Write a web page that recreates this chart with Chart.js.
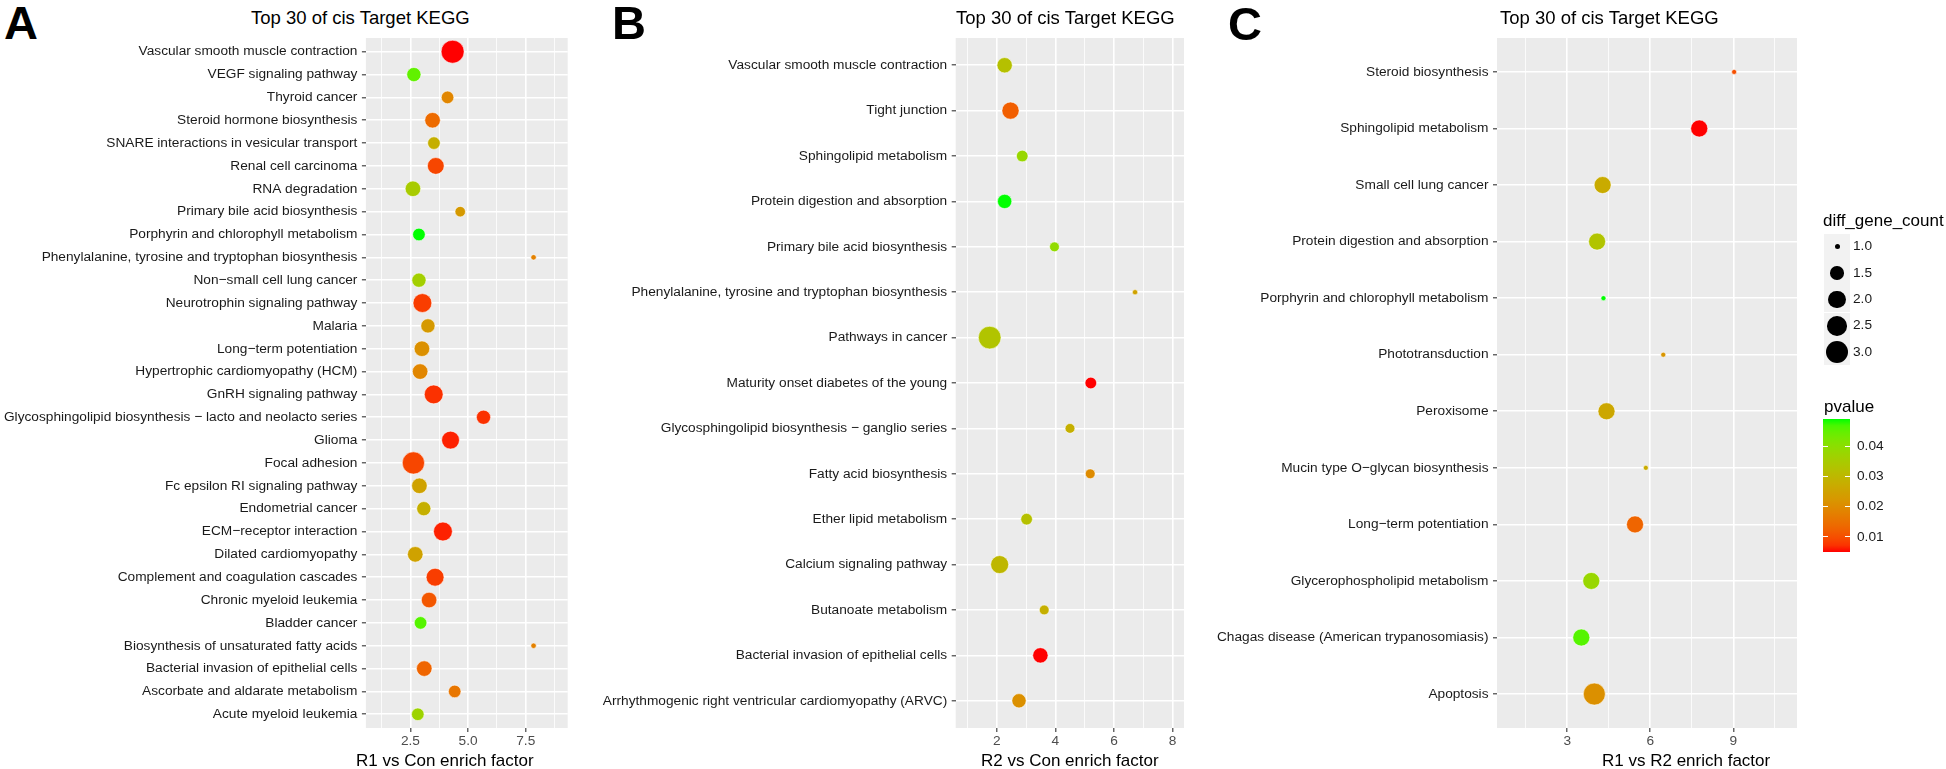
<!DOCTYPE html>
<html>
<head>
<meta charset="utf-8">
<script src="https://cdn.jsdelivr.net/npm/chart.js@4.4.1/dist/chart.umd.min.js"></script>
<style>
  html, body { margin: 0; padding: 0; background: #fff; }
  body { width: 1946px; height: 769px; position: relative; overflow: hidden;
         font-family: "Liberation Sans", Arial, sans-serif; }
  .panel { position: absolute; top: 0; height: 769px; }
  .panel canvas { position: absolute; left: 0; top: 0; }
  .txt { position: absolute; line-height: 1; white-space: nowrap; color: #000; }
  .letter { font-size: 47px; font-weight: bold; }
  .title { font-size: 18.5px; top: 8.8px; }
  .axt { font-size: 17px; top: 752px; }
  .lg { font-size: 13.7px; color: #1a1a1a; }
  .key { position: absolute; width: 26px; height: 26px; background: #f2f2f2; }
  .dot { position: absolute; border-radius: 50%; background: #000; }
  .cbtick { position: absolute; height: 1px; width: 5px; background: #fff; }
</style>
</head>
<body>

<div class="panel" id="panelA" style="left:0;width:580px;">
  <div class="txt letter" style="left:4px;top:-1.5px;">A</div>
  <div class="txt title" style="left:251px;">Top 30 of cis Target KEGG</div>
  <canvas id="chartA" width="580" height="769"></canvas>
  <div class="txt axt" style="left:356px;">R1 vs Con enrich factor</div>
</div>

<div class="panel" id="panelB" style="left:560px;width:640px;">
  <div class="txt letter" style="left:52px;top:-1.5px;">B</div>
  <div class="txt title" style="left:396px;">Top 30 of cis Target KEGG</div>
  <canvas id="chartB" width="640" height="769"></canvas>
  <div class="txt axt" style="left:421px;">R2 vs Con enrich factor</div>
</div>

<div class="panel" id="panelC" style="left:1190px;width:756px;">
  <div class="txt letter" style="left:38px;top:0px;">C</div>
  <div class="txt title" style="left:310px;">Top 30 of cis Target KEGG</div>
  <canvas id="chartC" width="756" height="769"></canvas>
  <div class="txt axt" style="left:412px;">R1 vs R2 enrich factor</div>
</div>

<div id="legend"></div>

<script>
// ── Data ──────────────────────────────────────
const catsA = [
  'Vascular smooth muscle contraction', 'VEGF signaling pathway', 'Thyroid cancer',
  'Steroid hormone biosynthesis', 'SNARE interactions in vesicular transport', 'Renal cell carcinoma',
  'RNA degradation', 'Primary bile acid biosynthesis', 'Porphyrin and chlorophyll metabolism',
  'Phenylalanine, tyrosine and tryptophan biosynthesis', 'Non\u2212small cell lung cancer',
  'Neurotrophin signaling pathway', 'Malaria', 'Long\u2212term potentiation',
  'Hypertrophic cardiomyopathy (HCM)', 'GnRH signaling pathway',
  'Glycosphingolipid biosynthesis \u2212 lacto and neolacto series', 'Glioma', 'Focal adhesion',
  'Fc epsilon RI signaling pathway', 'Endometrial cancer', 'ECM\u2212receptor interaction',
  'Dilated cardiomyopathy', 'Complement and coagulation cascades', 'Chronic myeloid leukemia',
  'Bladder cancer', 'Biosynthesis of unsaturated fatty acids', 'Bacterial invasion of epithelial cells',
  'Ascorbate and aldarate metabolism', 'Acute myeloid leukemia'
];
const enrichA = [4.33, 2.65, 4.11, 3.46, 3.52, 3.60, 2.61, 4.66, 2.87, 7.84, 2.87, 3.02, 3.26, 3.00, 2.92,
                 3.51, 5.67, 4.24, 2.63, 2.89, 3.08, 3.91, 2.71, 3.57, 3.31, 2.94, 7.84, 3.10, 4.42, 2.82];
const countA  = [13, 4, 3, 5, 3, 6, 5, 2, 3, 1, 4, 8, 4, 5, 5, 8, 4, 7, 12, 5, 4, 8, 5, 7, 5, 3, 1, 5, 3, 3];
const pvalA   = [0.005, 0.045, 0.019, 0.014, 0.028, 0.009, 0.035, 0.023, 0.049, 0.018, 0.036, 0.008, 0.023,
                 0.021, 0.019, 0.007, 0.007, 0.006, 0.009, 0.025, 0.028, 0.006, 0.025, 0.008, 0.011, 0.046,
                 0.018, 0.013, 0.016, 0.037];
const majorA = [2.5, 5.0, 7.5];
const minorA = [1.25, 3.75, 6.25, 8.75];

const catsB = [
  'Vascular smooth muscle contraction', 'Tight junction', 'Sphingolipid metabolism',
  'Protein digestion and absorption', 'Primary bile acid biosynthesis',
  'Phenylalanine, tyrosine and tryptophan biosynthesis', 'Pathways in cancer',
  'Maturity onset diabetes of the young', 'Glycosphingolipid biosynthesis \u2212 ganglio series',
  'Fatty acid biosynthesis', 'Ether lipid metabolism', 'Calcium signaling pathway',
  'Butanoate metabolism', 'Bacterial invasion of epithelial cells',
  'Arrhythmogenic right ventricular cardiomyopathy (ARVC)'
];
const enrichB = [2.27, 2.47, 2.87, 2.27, 3.97, 6.72, 1.76, 5.21, 4.50, 5.19, 3.02, 2.10, 3.62, 3.49, 2.76];
const countB  = [6, 8, 3, 5, 2, 1, 16, 3, 2, 2, 3, 9, 2, 6, 5];
const pvalB   = [0.032, 0.012, 0.038, 0.049, 0.039, 0.025, 0.033, 0.005, 0.028, 0.020, 0.032, 0.030,
                 0.028, 0.005, 0.021];
const majorB = [2, 4, 6, 8];
const minorB = [1, 3, 5, 7];

const catsC = [
  'Steroid biosynthesis', 'Sphingolipid metabolism', 'Small cell lung cancer',
  'Protein digestion and absorption', 'Porphyrin and chlorophyll metabolism', 'Phototransduction',
  'Peroxisome', 'Mucin type O\u2212glycan biosynthesis', 'Long\u2212term potentiation',
  'Glycerophospholipid metabolism', 'Chagas disease (American trypanosomiasis)', 'Apoptosis'
];
const enrichC = [9.03, 7.77, 4.28, 4.08, 4.31, 6.47, 4.42, 5.84, 5.45, 3.87, 3.51, 3.98];
const countC  = [1, 2, 2, 2, 1, 1, 2, 1, 2, 2, 2, 3];
const pvalC   = [0.010, 0.005, 0.027, 0.033, 0.049, 0.022, 0.026, 0.027, 0.013, 0.038, 0.046, 0.021];
const majorC = [3, 6, 9];
const minorC = [1.5, 4.5, 7.5, 10.5];

const sizeBreaks = [1.0, 1.5, 2.0, 2.5, 3.0];
const pBreaks    = [0.01, 0.02, 0.03, 0.04];

// ── Colour scale (red → green, interpolated in Lab like ggplot) ──
function toLab(rgb) {
  const lin = rgb.map(v => { v /= 255; return v <= 0.04045 ? v / 12.92 : Math.pow((v + 0.055) / 1.055, 2.4); });
  const X = (0.4124 * lin[0] + 0.3576 * lin[1] + 0.1805 * lin[2]) / 0.95047;
  const Y =  0.2126 * lin[0] + 0.7152 * lin[1] + 0.0722 * lin[2];
  const Z = (0.0193 * lin[0] + 0.1192 * lin[1] + 0.9505 * lin[2]) / 1.08883;
  const f = t => t > 0.008856 ? Math.cbrt(t) : 7.787 * t + 16 / 116;
  return [116 * f(Y) - 16, 500 * (f(X) - f(Y)), 200 * (f(Y) - f(Z))];
}
function fromLab([L, a, b]) {
  const fy = (L + 16) / 116, fx = fy + a / 500, fz = fy - b / 200;
  const inv = t => t * t * t > 0.008856 ? t * t * t : (t - 16 / 116) / 7.787;
  const X = inv(fx) * 0.95047, Y = inv(fy), Z = inv(fz) * 1.08883;
  const r  =  3.2406 * X - 1.5372 * Y - 0.4986 * Z;
  const g  = -0.9689 * X + 1.8758 * Y + 0.0415 * Z;
  const bb =  0.0557 * X - 0.2040 * Y + 1.0570 * Z;
  const gam = v => {
    v = v <= 0.0031308 ? 12.92 * v : 1.055 * Math.pow(v, 1 / 2.4) - 0.055;
    return Math.round(Math.min(1, Math.max(0, v)) * 255);
  };
  return `rgb(${gam(r)},${gam(g)},${gam(bb)})`;
}
const LAB_LO = toLab([255, 0, 0]);
const LAB_HI = toLab([0, 255, 0]);
function pColor(p, lo, hi) {
  const t = Math.min(1, Math.max(0, (p - lo) / (hi - lo)));
  return fromLab(LAB_LO.map((v, i) => v + (LAB_HI[i] - v) * t));
}

// ggplot area scale: diameter grows with sqrt of rescaled count
function sizeToRadius(c, lo, hi, dMin, dMax) {
  const f = hi > lo ? (c - lo) / (hi - lo) : 0;
  return (dMin + (dMax - dMin) * Math.sqrt(f)) / 2;
}

// ── Grey panel background ─────────────────────
const panelBg = {
  id: 'panelBg',
  beforeDraw(chart) {
    const { ctx, chartArea: a } = chart;
    ctx.save();
    ctx.fillStyle = '#EBEBEB';
    ctx.fillRect(a.left, a.top, a.right - a.left, a.bottom - a.top);
    ctx.restore();
  }
};

Chart.defaults.font.family = '"Liberation Sans", Arial, sans-serif';

function makePanel(id, cats, xs, counts, pvals, o) {
  const pLo = Math.min(...pvals), pHi = Math.max(...pvals);
  const cLo = Math.min(...counts), cHi = Math.max(...counts);
  const pts = cats.map((c, i) => ({ x: xs[i], y: i, r: sizeToRadius(counts[i], cLo, cHi, o.dMin, o.dMax) }));
  const cols = pvals.map(p => pColor(p, pLo, pHi));
  const isMajor = v => o.major.some(m => Math.abs(m - v) < 1e-9);
  const allTicks = [...o.major, ...o.minor].sort((a, b) => a - b);

  return new Chart(document.getElementById(id), {
    type: 'bubble',
    data: { datasets: [{ data: pts, backgroundColor: cols, borderColor: 'rgba(255,255,255,0.7)', borderWidth: 0.8 }] },
    options: {
      responsive: false,
      animation: false,
      layout: { padding: { left: 0, right: o.padRight, top: 38, bottom: 0 } },
      plugins: { legend: { display: false }, tooltip: { enabled: false } },
      scales: {
        x: {
          type: 'linear', bounds: 'data', min: o.xMin, max: o.xMax,
          afterBuildTicks: s => { s.ticks = allTicks.map(v => ({ value: v })); },
          afterFit: s => { s.height = 41; },
          border: { display: false },
          grid: {
            color: '#FFFFFF',
            lineWidth: ctx => isMajor(ctx.tick.value) ? 1.6 : 0.8,
            tickColor: ctx => isMajor(ctx.tick.value) ? '#333333' : 'rgba(0,0,0,0)',
            tickLength: 4, tickWidth: 1.1
          },
          ticks: {
            autoSkip: false, maxRotation: 0, padding: 1, color: '#4D4D4D',
            font: { size: 13.7 },
            callback: v => isMajor(v) ? o.fmt(v) : ''
          }
        },
        y: {
          type: 'linear', bounds: 'data', reverse: true, min: -0.6, max: cats.length - 0.4,
          afterBuildTicks: s => { s.ticks = cats.map((c, i) => ({ value: i })); },
          afterFit: s => { s.width = o.yWidth; },
          border: { display: false },
          grid: { color: '#FFFFFF', lineWidth: 1.6, tickColor: '#333333', tickLength: 4, tickWidth: 1.1 },
          ticks: {
            autoSkip: false, padding: o.yPad, color: '#1A1A1A',
            font: { size: 13.7 },
            callback: v => cats[Math.round(v)] ?? ''
          }
        }
      }
    },
    plugins: [panelBg]
  });
}

makePanel('chartA', catsA, enrichA, countA, pvalA, {
  xMin: 0.57, xMax: 9.32, yWidth: 365.9, padRight: 7.9, yPad: 4.5,
  major: majorA, minor: minorA, fmt: v => v.toFixed(1), dMin: 5.4, dMax: 23
});
makePanel('chartB', catsB, enrichB, countB, pvalB, {
  xMin: 0.60, xMax: 8.39, yWidth: 395.7, padRight: 16, yPad: 4.5,
  major: majorB, minor: minorB, fmt: v => String(v), dMin: 5.3, dMax: 22.7
});
makePanel('chartC', catsC, enrichC, countC, pvalC, {
  xMin: 0.465, xMax: 11.3, yWidth: 307, padRight: 149, yPad: 4.5,
  major: majorC, minor: minorC, fmt: v => String(v), dMin: 5, dMax: 22
});

// ── Legend for panel C (size + colourbar) ─────
const legend = document.getElementById('legend');
function addEl(cls, css, text) {
  const d = document.createElement('div');
  d.className = cls;
  d.style.cssText = css;
  if (text) d.textContent = text;
  legend.appendChild(d);
  return d;
}

addEl('txt', 'left:1823px;top:212px;font-size:17px;', 'diff_gene_count');
const cLoC = Math.min(...countC), cHiC = Math.max(...countC);
sizeBreaks.forEach((b, k) => {
  const top = 233.5 + k * 26.4;
  addEl('key', `left:1824px;top:${top}px;`);
  const r = sizeToRadius(b, cLoC, cHiC, 5, 22);
  addEl('dot', `left:${1837 - r}px;top:${top + 13 - r}px;width:${2 * r}px;height:${2 * r}px;`);
  addEl('txt lg', `left:1853px;top:${top + 13 - 7.3}px;`, b.toFixed(1));
});

addEl('txt', 'left:1824px;top:398px;font-size:17px;', 'pvalue');
const pLoC = Math.min(...pvalC), pHiC = Math.max(...pvalC);
const cbTop = 419, cbH = 133, cbLeft = 1823, cbW = 27;
const stops = [];
for (let i = 0; i <= 20; i++) {
  const p = pLoC + (pHiC - pLoC) * i / 20;
  stops.push(`${pColor(p, pLoC, pHiC)} ${(i * 5)}%`);
}
addEl('', `position:absolute;left:${cbLeft}px;top:${cbTop}px;width:${cbW}px;height:${cbH}px;` +
           `background:linear-gradient(to top, ${stops.join(', ')});`);
pBreaks.forEach(p => {
  const y = cbTop + cbH - (p - pLoC) / (pHiC - pLoC) * cbH;
  addEl('cbtick', `left:${cbLeft}px;top:${y - 0.5}px;`);
  addEl('cbtick', `left:${cbLeft + cbW - 5}px;top:${y - 0.5}px;`);
  addEl('txt lg', `left:1857px;top:${y - 7.3}px;`, p.toFixed(2));
});
</script>
</body>
</html>
